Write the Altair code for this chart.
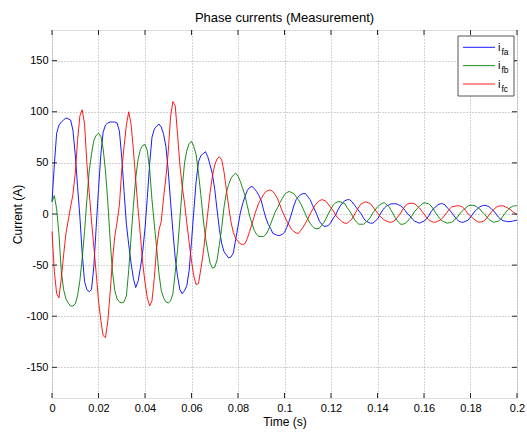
import altair as alt
import pandas as pd

# ---- data (1 ms sampling, 0 ... 200 ms) ----
time_ms = list(range(0, 201))

i_fa = [12, 48, 79, 87, 90, 92, 94, 93, 92, 82,
        58, 27, -3, -39, -66, -74, -76, -74, -51, -13,
        24, 58, 80, 87, 89, 90, 90, 90, 89, 81,
        55, 22, -10, -30, -48, -63, -72, -66, -53, -37,
        -14, 16, 49, 75, 83, 86, 88, 85, 78, 66,
        42, 12, -17, -43, -61, -74, -78, -75, -70, -55,
        -27, 3, 32, 51, 57, 59, 61, 56, 48, 39,
        24, 4, -15, -29, -37, -40, -43, -42, -38, -25,
        -12, 1, 10, 17, 23, 26, 27, 25, 22, 18,
        13, 4, -4, -10, -14, -19, -20, -21, -21, -20,
        -18, -13, -7, 0, 8, 14, 17, 19, 20, 20,
        17, 14, 9, 4, -1, -7, -10, -12, -12, -11,
        -8, -4, -1, 4, 8, 11, 13, 14, 14, 12,
        9, 6, 3, 0, -4, -7, -8, -9, -9, -7,
        -5, -1, 3, 6, 8, 9, 10, 10, 10, 9,
        8, 6, 3, 0, -2, -5, -7, -8, -9, -8,
        -7, -5, -2, 2, 5, 7, 9, 10, 10, 9,
        6, 4, 1, -2, -5, -7, -8, -8, -7, -6,
        -3, 0, 3, 5, 7, 8, 8.5, 8, 7, 5,
        3, 0, -3, -5, -6.5, -7, -7.5, -7.5, -7, -6.5,
        -6]

i_fb = [12, 18, 5, -20, -56, -74, -83, -87, -90, -90,
        -88, -80, -65, -43, -17, 14, 42, 59, 72, 77,
        79, 76, 64, 42, 12, -25, -56, -75, -83, -86,
        -87, -86, -80, -55, -23, 8, 35, 53, 63, 67,
        68, 62, 44, 14, -10, -33, -58, -75, -82, -86,
        -87, -85, -78, -57, -35, -5, 25, 50, 62, 69,
        71, 66, 58, 40, 19, -4, -23, -36, -48, -53,
        -52, -45, -30, -13, 7, 21, 29, 35, 38, 40,
        37, 32, 25, 18, 8, -2, -9, -16, -20, -22,
        -22, -22, -20, -16, -10, -4, 2, 6, 11, 15,
        19, 21, 22, 21, 20, 17, 14, 10, 5, 0,
        -5, -9, -12, -14, -14.5, -14, -11, -8, -4, 1,
        5, 9, 11, 12, 12, 11, 10, 6, 3, -1,
        -5, -8, -10, -10, -10, -8, -6, -3, 1, 4,
        7, 9, 10.5, 11, 9, 7, 3, -1, -5, -8,
        -10, -10, -9, -7, -4, -1, 2.6, 5, 7.5, 9.5,
        11, 10.5, 10, 8, 5, 1, -2, -5, -7, -8,
        -9, -8.5, -8, -6, -4, -1, 2, 4, 6, 8,
        8.5, 8.5, 8, 6.5, 5, 2, 0, -3, -5.5, -7,
        -8, -7.5, -7, -5, -2, 1, 4, 6, 7.5, 8,
        8]

i_fc = [-17, -56, -78, -82, -63, -40, -19, -6, 7, 19,
        40, 72, 96, 102, 88, 50, 21, -7, -32, -58,
        -85, -104, -119, -121, -105, -77, -46, -22, -8, 9,
        43, 66, 87, 100, 88, 63, 34, 5, -20, -48,
        -67, -82, -90, -85, -63, -33, -16, -7, 16, 36,
        61, 95, 110, 106, 78, 48, 27, 11, -9, -28,
        -46, -61, -69, -68, -54, -39, -19, 1, 21, 37,
        48, 54, 56, 53, 41, 24, 7, -8, -18, -24,
        -27, -29, -30, -29, -24, -17, -10, -2, 5, 11,
        15, 19, 22, 23, 23.5, 22, 19, 15, 9, 3,
        -2, -7, -11, -15, -17, -18.5, -19, -16, -13, -9,
        -5, 0, 4, 8, 11, 13, 14, 13.5, 12, 9,
        6, 3, -1, -4, -6, -8, -9, -9, -7, -5,
        -1, 3, 7, 10, 11, 12, 11, 10, 7, 4,
        1, -2, -4, -6, -7, -8, -8, -7, -5, -2,
        1, 5, 8, 10, 10.5, 10.5, 10, 8, 6, 3,
        0, -3, -5.5, -7, -8, -8, -7, -6, -4, -1,
        2, 5, 7, 7.5, 8, 8, 7.5, 6, 3, 0,
        -2, -4, -6, -7.5, -8, -7.5, -6.5, -4, -1, 2,
        4.5, 6.5, 7.5, 8, 8, 7, 6, 4.5, 2.6, 1,
        -1]

phase_names = ["i_fa", "i_fb", "i_fc"]
legend_subs = ["fa", "fb", "fc"]
x_ticks = [0, 0.02, 0.04, 0.06, 0.08, 0.1, 0.12, 0.14, 0.16, 0.18, 0.2]
y_ticks = [-150, -100, -50, 0, 50, 100, 150]
title_text = "Phase currents (Measurement)"

# ---- styling / layout ----
colors = ["#0000ff", "#008000", "#ff0000"]
W, H = 465, 368
AXC = "#262626"
FONT = "Liberation Sans"

n = len(time_ms)
df = pd.DataFrame({
    "t": [m / 1000 for m in time_ms] * 3,
    "current": i_fa + i_fb + i_fc,
    "phase": [phase_names[0]] * n + [phase_names[1]] * n + [phase_names[2]] * n,
})

xscale = alt.Scale(domain=[0, 0.2], nice=False, zero=False)
yscale = alt.Scale(domain=[-180, 180], nice=False, zero=False)
cscale = alt.Scale(domain=phase_names, range=colors)

common_axis = dict(
    ticks=False, domain=False, grid=True,
    gridDash=[1, 2], gridColor="#a8a8a8", gridWidth=1,
    labelFont=FONT, labelFontSize=11, labelColor="#000000",
    labelPadding=4, labelOverlap=False, labelFlush=False,
    labelExpr="toString(datum.value)",
    titleFont=FONT, titleFontSize=12, titleFontWeight="normal", titleColor="#000000",
)
x_axis = alt.Axis(values=x_ticks, title="Time (s)",
                  titleX=W / 2, titleY=27, titleBaseline="alphabetic",
                  **common_axis)
y_axis = alt.Axis(values=y_ticks, title="Current (A)",
                  titleX=-35, titleY=H / 2, titleAngle=-90,
                  titleBaseline="middle", titleAlign="center",
                  **common_axis)

lines = alt.Chart(df).mark_line(strokeWidth=0.9).encode(
    x=alt.X("t:Q", scale=xscale, axis=x_axis, title="Time (s)"),
    y=alt.Y("current:Q", scale=yscale, axis=y_axis, title="Current (A)"),
    color=alt.Color("phase:N", scale=cscale, legend=None),
)

# inward ticks on all four sides (MATLAB box style)
xt = pd.DataFrame({"t": x_ticks})
yt = pd.DataFrame({"current": y_ticks})
tick_layers = []
for y0, y1 in [(H, H - 5), (0, 5)]:
    tick_layers.append(
        alt.Chart(xt).mark_rule(color=AXC, strokeWidth=1).encode(
            x=alt.X("t:Q", scale=xscale, axis=x_axis, title="Time (s)"),
            y=alt.value(y0), y2=alt.value(y1)))
for x0, x1 in [(0, 5), (W, W - 5)]:
    tick_layers.append(
        alt.Chart(yt).mark_rule(color=AXC, strokeWidth=1).encode(
            y=alt.Y("current:Q", scale=yscale, axis=y_axis, title="Current (A)"),
            x=alt.value(x0), x2=alt.value(x1)))

one = pd.DataFrame({"a": [0]})

# chart title as a text mark above the plot
title_layer = alt.Chart(one).mark_text(
    text=title_text, font=FONT, fontSize=13, align="center",
    baseline="alphabetic", color="#000000").encode(
    x=alt.value(W / 2), y=alt.value(-8))

# legend box (manual, to get subscripts)
legend_layers = [
    alt.Chart(one).mark_rect(fill="white", stroke="#555555", strokeWidth=1).encode(
        x=alt.value(406), x2=alt.value(462), y=alt.value(6), y2=alt.value(66))
]
for k, (name, sub) in enumerate(zip(phase_names, legend_subs)):
    ly = 17.3 + k * 18.35
    legend_layers.append(
        alt.Chart(one).mark_rule(color=colors[k], strokeWidth=0.9).encode(
            x=alt.value(411), x2=alt.value(443), y=alt.value(ly)))
    legend_layers.append(
        alt.Chart(one).mark_text(text="i", font=FONT, fontSize=11, align="left",
                                 baseline="alphabetic", color="#000000").encode(
            x=alt.value(446), y=alt.value(ly + 3.5)))
    legend_layers.append(
        alt.Chart(one).mark_text(text=sub, font=FONT, fontSize=8.5, align="left",
                                 baseline="alphabetic", color="#000000").encode(
            x=alt.value(449.5), y=alt.value(ly + 7.5)))

chart = alt.layer(lines, *tick_layers, title_layer, *legend_layers).properties(
    width=W, height=H,
    padding={"left": 52, "top": 30, "right": 10, "bottom": 34},
    autosize=alt.AutoSizeParams(type="none"),
).configure_view(stroke=AXC, strokeWidth=1).configure(background="white")

chart.save("out.html", embed_options={"renderer": "svg", "actions": False})
